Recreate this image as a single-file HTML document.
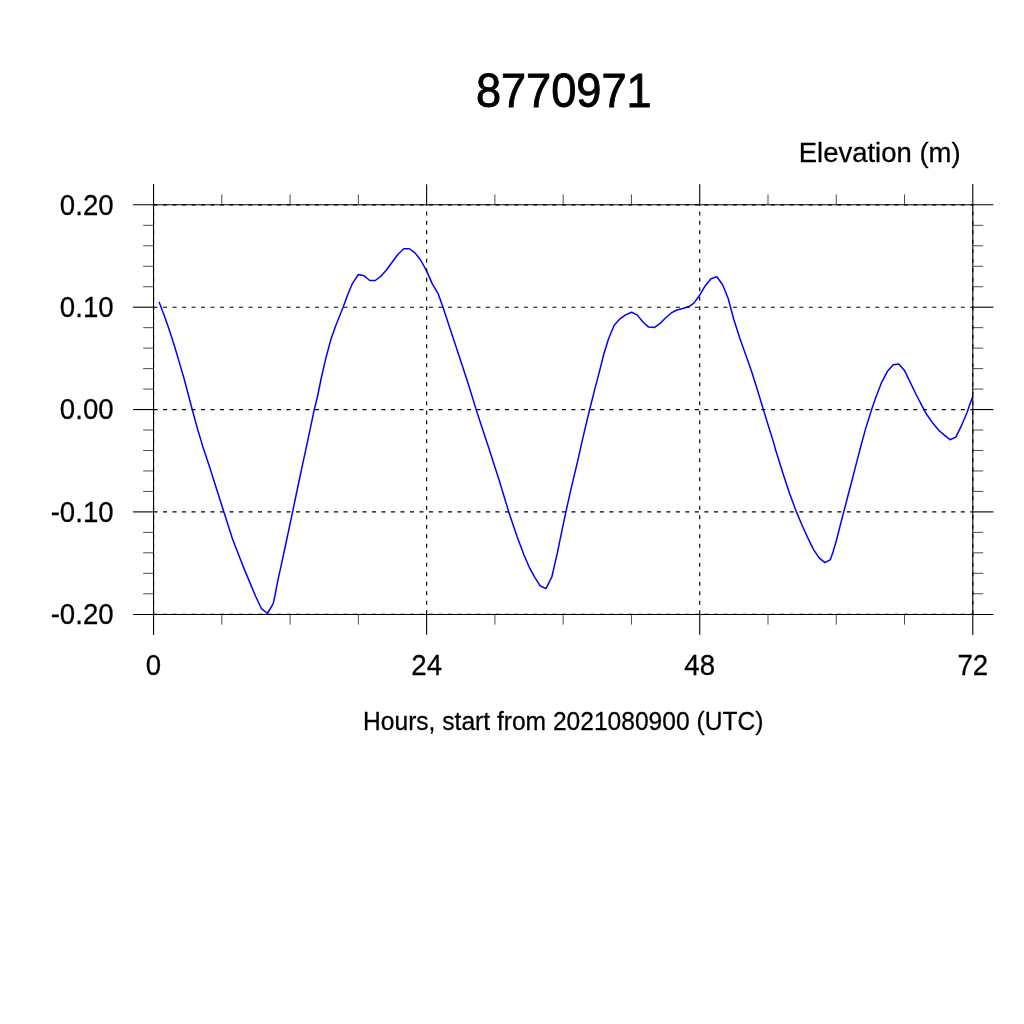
<!DOCTYPE html>
<html lang="en"><head><meta charset="utf-8"><title>8770971</title>
<style>html,body{margin:0;padding:0;background:#fff}svg{display:block}text{font-family:"Liberation Sans",sans-serif;fill:#000}</style></head><body>
<svg width="1024" height="1024" viewBox="0 0 1024 1024">
<rect width="1024" height="1024" fill="#fff"/>
<polyline points="159.10,302.00 164.60,316.50 169.50,330.60 174.40,345.80 179.30,362.40 184.20,379.00 188.40,395.00 192.20,409.50 197.60,429.10 203.40,448.60 210.30,469.10 213.70,480.00 223.90,511.90 232.20,538.00 234.80,545.00 239.50,557.10 244.60,569.90 250.10,583.10 255.60,596.30 261.50,608.70 267.40,613.50 273.20,603.60 275.00,595.50 277.60,581.60 281.30,564.80 286.00,543.00 292.60,511.90 298.20,485.00 302.60,464.40 307.00,444.20 310.90,425.70 314.30,409.30 317.30,397.50 321.50,377.00 326.10,357.20 330.70,340.10 335.60,326.00 343.10,307.20 347.70,294.70 352.50,283.30 358.40,274.50 364.10,275.80 369.70,280.50 375.30,280.50 381.10,276.10 386.70,269.80 392.30,262.00 398.00,254.20 403.75,248.75 409.50,248.75 415.20,253.10 420.90,260.50 426.60,270.90 432.30,283.90 438.10,293.60 443.00,307.30 447.60,321.25 453.40,338.80 459.30,356.40 464.70,373.00 468.60,385.00 476.10,409.40 482.50,428.90 489.30,449.50 495.20,468.00 499.10,480.00 508.75,511.90 516.95,536.25 524.00,555.00 529.30,567.30 534.80,577.30 540.40,586.05 546.00,588.60 551.80,577.00 554.20,566.70 557.40,552.70 561.50,532.70 565.90,511.90 570.90,489.40 577.60,461.40 583.40,435.60 589.65,409.50 595.20,387.60 599.80,370.10 603.70,354.50 608.55,338.80 614.20,325.20 620.00,318.80 625.60,314.90 631.50,312.30 637.20,314.90 642.70,321.70 648.60,327.10 654.20,327.60 659.80,323.70 665.70,317.80 671.30,312.95 676.90,310.00 682.80,308.55 688.60,306.80 693.90,303.10 699.60,295.30 705.30,285.70 711.00,278.70 716.85,276.70 722.50,284.50 728.30,298.70 730.50,307.20 733.90,319.70 739.80,338.20 745.80,354.90 751.60,371.60 757.50,390.20 763.30,409.40 768.20,425.30 773.10,440.90 775.80,450.50 782.60,472.30 789.60,493.40 796.40,511.90 802.50,526.20 808.40,539.10 813.60,549.60 819.10,557.80 825.00,562.70 830.40,559.60 833.00,552.00 836.50,540.20 840.00,526.20 843.75,511.90 848.20,494.80 850.80,485.00 856.10,464.40 861.35,444.20 865.75,428.40 871.70,409.30 875.90,397.30 881.45,382.80 887.30,371.60 893.20,364.80 898.80,364.10 904.70,370.80 910.50,382.80 916.40,395.00 922.00,405.80 923.90,409.40 927.10,415.05 933.10,423.60 938.80,430.20 944.60,435.40 950.10,439.70 955.80,437.10 961.60,425.30 967.20,412.30 969.40,405.50 972.85,396.30" fill="none" stroke="#0000ff" stroke-width="1.5" stroke-linejoin="round" stroke-linecap="butt"/>
<g stroke="#000" stroke-width="1.1" fill="none" stroke-linecap="butt">
<line x1="153.55" y1="184.1" x2="153.55" y2="635.0500000000001"/>
<line x1="972.8" y1="184.1" x2="972.8" y2="635.0500000000001"/>
<line x1="132.95000000000002" y1="204.7" x2="993.4" y2="204.7"/>
<line x1="132.95000000000002" y1="614.45" x2="993.4" y2="614.45"/>
</g>
<g stroke="#000" stroke-width="1.1" fill="none">
<line x1="426.63" y1="184.25" x2="426.63" y2="204.85"/>
<line x1="426.63" y1="614.25" x2="426.63" y2="634.85"/>
<line x1="699.72" y1="184.25" x2="699.72" y2="204.85"/>
<line x1="699.72" y1="614.25" x2="699.72" y2="634.85"/>
<line x1="132.95000000000002" y1="307.20" x2="153.55" y2="307.20"/>
<line x1="972.8" y1="307.20" x2="993.4" y2="307.20"/>
<line x1="132.95000000000002" y1="409.55" x2="153.55" y2="409.55"/>
<line x1="972.8" y1="409.55" x2="993.4" y2="409.55"/>
<line x1="132.95000000000002" y1="511.90" x2="153.55" y2="511.90"/>
<line x1="972.8" y1="511.90" x2="993.4" y2="511.90"/>
</g>
<g stroke="#000" stroke-width="0.7" fill="none">
<line x1="221.82" y1="194.45" x2="221.82" y2="204.85"/>
<line x1="221.82" y1="614.25" x2="221.82" y2="624.65"/>
<line x1="290.09" y1="194.45" x2="290.09" y2="204.85"/>
<line x1="290.09" y1="614.25" x2="290.09" y2="624.65"/>
<line x1="358.36" y1="194.45" x2="358.36" y2="204.85"/>
<line x1="358.36" y1="614.25" x2="358.36" y2="624.65"/>
<line x1="494.90" y1="194.45" x2="494.90" y2="204.85"/>
<line x1="494.90" y1="614.25" x2="494.90" y2="624.65"/>
<line x1="563.17" y1="194.45" x2="563.17" y2="204.85"/>
<line x1="563.17" y1="614.25" x2="563.17" y2="624.65"/>
<line x1="631.45" y1="194.45" x2="631.45" y2="204.85"/>
<line x1="631.45" y1="614.25" x2="631.45" y2="624.65"/>
<line x1="767.99" y1="194.45" x2="767.99" y2="204.85"/>
<line x1="767.99" y1="614.25" x2="767.99" y2="624.65"/>
<line x1="836.26" y1="194.45" x2="836.26" y2="204.85"/>
<line x1="836.26" y1="614.25" x2="836.26" y2="624.65"/>
<line x1="904.53" y1="194.45" x2="904.53" y2="204.85"/>
<line x1="904.53" y1="614.25" x2="904.53" y2="624.65"/>
<line x1="143.15" y1="593.78" x2="153.55" y2="593.78"/>
<line x1="972.8" y1="593.78" x2="983.1999999999999" y2="593.78"/>
<line x1="143.15" y1="573.31" x2="153.55" y2="573.31"/>
<line x1="972.8" y1="573.31" x2="983.1999999999999" y2="573.31"/>
<line x1="143.15" y1="552.84" x2="153.55" y2="552.84"/>
<line x1="972.8" y1="552.84" x2="983.1999999999999" y2="552.84"/>
<line x1="143.15" y1="532.37" x2="153.55" y2="532.37"/>
<line x1="972.8" y1="532.37" x2="983.1999999999999" y2="532.37"/>
<line x1="143.15" y1="491.43" x2="153.55" y2="491.43"/>
<line x1="972.8" y1="491.43" x2="983.1999999999999" y2="491.43"/>
<line x1="143.15" y1="470.96" x2="153.55" y2="470.96"/>
<line x1="972.8" y1="470.96" x2="983.1999999999999" y2="470.96"/>
<line x1="143.15" y1="450.49" x2="153.55" y2="450.49"/>
<line x1="972.8" y1="450.49" x2="983.1999999999999" y2="450.49"/>
<line x1="143.15" y1="430.02" x2="153.55" y2="430.02"/>
<line x1="972.8" y1="430.02" x2="983.1999999999999" y2="430.02"/>
<line x1="143.15" y1="389.08" x2="153.55" y2="389.08"/>
<line x1="972.8" y1="389.08" x2="983.1999999999999" y2="389.08"/>
<line x1="143.15" y1="368.61" x2="153.55" y2="368.61"/>
<line x1="972.8" y1="368.61" x2="983.1999999999999" y2="368.61"/>
<line x1="143.15" y1="348.14" x2="153.55" y2="348.14"/>
<line x1="972.8" y1="348.14" x2="983.1999999999999" y2="348.14"/>
<line x1="143.15" y1="327.67" x2="153.55" y2="327.67"/>
<line x1="972.8" y1="327.67" x2="983.1999999999999" y2="327.67"/>
<line x1="143.15" y1="286.73" x2="153.55" y2="286.73"/>
<line x1="972.8" y1="286.73" x2="983.1999999999999" y2="286.73"/>
<line x1="143.15" y1="266.26" x2="153.55" y2="266.26"/>
<line x1="972.8" y1="266.26" x2="983.1999999999999" y2="266.26"/>
<line x1="143.15" y1="245.79" x2="153.55" y2="245.79"/>
<line x1="972.8" y1="245.79" x2="983.1999999999999" y2="245.79"/>
<line x1="143.15" y1="225.32" x2="153.55" y2="225.32"/>
<line x1="972.8" y1="225.32" x2="983.1999999999999" y2="225.32"/>
</g>
<g stroke="#000" stroke-width="1.15" fill="none" stroke-dasharray="4 5.497">
<line x1="153.55" y1="204.85" x2="972.8" y2="204.85"/>
<line x1="153.55" y1="307.20" x2="972.8" y2="307.20"/>
<line x1="153.55" y1="409.55" x2="972.8" y2="409.55"/>
<line x1="153.55" y1="511.90" x2="972.8" y2="511.90"/>
<line x1="153.55" y1="614.25" x2="972.8" y2="614.25"/>
<line x1="153.55" y1="614.25" x2="153.55" y2="204.85"/>
<line x1="426.63" y1="614.25" x2="426.63" y2="204.85"/>
<line x1="699.72" y1="614.25" x2="699.72" y2="204.85"/>
<line x1="972.80" y1="614.25" x2="972.80" y2="204.85"/>
</g>
<g opacity="0.999">
<text transform="translate(563.80,107.40) scale(0.945,1)" font-size="47.8" text-anchor="middle" stroke="#000" stroke-width="0.9" stroke-linejoin="round">8770971</text>
<text transform="translate(960.60,161.90) scale(0.985,1)" font-size="27.9" text-anchor="end" stroke="#000" stroke-width="0.3" stroke-linejoin="round">Elevation (m)</text>
<text transform="translate(113.60,214.55) scale(0.924,1)" font-size="29.9" text-anchor="end" stroke="#000" stroke-width="0.3" stroke-linejoin="round">0.20</text>
<text transform="translate(113.60,316.90) scale(0.924,1)" font-size="29.9" text-anchor="end" stroke="#000" stroke-width="0.3" stroke-linejoin="round">0.10</text>
<text transform="translate(113.60,419.25) scale(0.924,1)" font-size="29.9" text-anchor="end" stroke="#000" stroke-width="0.3" stroke-linejoin="round">0.00</text>
<text transform="translate(113.60,521.60) scale(0.924,1)" font-size="29.9" text-anchor="end" stroke="#000" stroke-width="0.3" stroke-linejoin="round">-0.10</text>
<text transform="translate(113.60,623.95) scale(0.924,1)" font-size="29.9" text-anchor="end" stroke="#000" stroke-width="0.3" stroke-linejoin="round">-0.20</text>
<text transform="translate(153.55,675.20) scale(0.924,1)" font-size="29.9" text-anchor="middle" stroke="#000" stroke-width="0.3" stroke-linejoin="round">0</text>
<text transform="translate(426.63,675.20) scale(0.924,1)" font-size="29.9" text-anchor="middle" stroke="#000" stroke-width="0.3" stroke-linejoin="round">24</text>
<text transform="translate(699.72,675.20) scale(0.924,1)" font-size="29.9" text-anchor="middle" stroke="#000" stroke-width="0.3" stroke-linejoin="round">48</text>
<text transform="translate(972.80,675.20) scale(0.924,1)" font-size="29.9" text-anchor="middle" stroke="#000" stroke-width="0.3" stroke-linejoin="round">72</text>
<text transform="translate(563.20,730.30) scale(0.9606,1)" font-size="25.6" text-anchor="middle" stroke="#000" stroke-width="0.3" stroke-linejoin="round">Hours, start from 2021080900 (UTC)</text>
</g>
</svg></body></html>
